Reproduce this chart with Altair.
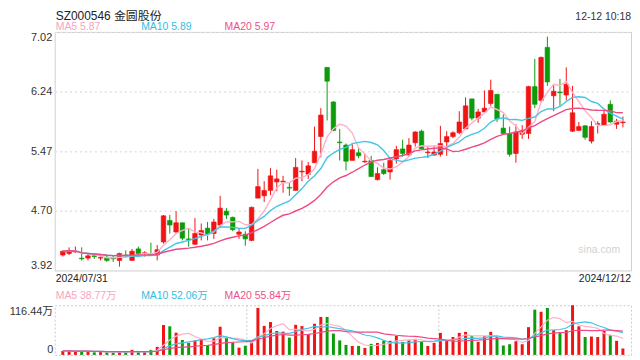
import altair as alt
import pandas as pd

title_text = "SZ000546 金圆股份"
time_text = "12-12 10:18"
start_date = "2024/07/31"
end_date = "2024/12/12"
watermark = "sina.com"
price_ticks = [3.92, 4.70, 5.47, 6.24, 7.02]
volume_ticks = [0, 116.44]
price_ma_labels = ["MA5 5.87", "MA10 5.89", "MA20 5.97"]
volume_ma_labels = ["MA5 38.77万", "MA10 52.06万", "MA20 55.84万"]
ma_windows = [5, 10, 20]

opens = [4.12, 4.14, 4.16, 4.08, 4.08, 4.11, 4.08, 4.09, 4.08, 4.05,
         4.12, 4.05, 4.20, 4.14, 4.13, 4.12, 4.29, 4.57, 4.42, 4.54,
         4.33, 4.26, 4.38, 4.47, 4.40, 4.51, 4.69, 4.61, 4.39, 4.39,
         4.31, 4.86, 4.89, 4.96, 5.07, 5.07, 5.00, 4.96, 5.20, 5.17,
         5.32, 5.66, 6.56, 6.11, 5.59, 5.55, 5.35, 5.45, 5.33, 5.35,
         5.10, 5.23, 5.20, 5.37, 5.50, 5.42, 5.58, 5.73, 5.45, 5.42,
         5.43, 5.59, 5.66, 5.71, 5.76, 6.15, 5.90, 5.98, 6.09, 6.21,
         5.77, 5.70, 5.44, 5.69, 5.70, 6.31, 6.13, 6.82, 6.19, 6.24,
         6.20, 5.73, 5.74, 5.80, 5.60, 5.82, 5.81, 6.08, 5.82, 5.84]

highs = [4.18, 4.22, 4.23, 4.22, 4.13, 4.13, 4.12, 4.12, 4.12, 4.15,
         4.18, 4.20, 4.23, 4.17, 4.28, 4.25, 4.64, 4.64, 4.69, 4.54,
         4.46, 4.60, 4.53, 4.55, 4.59, 4.89, 4.73, 4.62, 4.47, 4.43,
         4.75, 5.24, 5.08, 5.25, 5.23, 5.15, 5.06, 5.38, 5.35, 5.33,
         5.79, 6.03, 6.56, 6.12, 5.76, 5.57, 5.56, 5.51, 5.44, 5.41,
         5.26, 5.32, 5.38, 5.54, 5.62, 5.64, 5.73, 5.75, 5.53, 5.54,
         5.80, 5.73, 5.73, 5.99, 6.17, 6.15, 6.02, 6.26, 6.40, 6.21,
         5.95, 5.79, 5.82, 5.81, 6.32, 6.67, 6.70, 6.96, 6.34, 6.41,
         6.56, 6.32, 5.85, 5.81, 5.86, 5.86, 6.01, 6.13, 5.89, 5.92]

lows = [4.10, 4.12, 4.15, 4.05, 4.05, 4.07, 4.05, 4.03, 4.03, 3.97,
        4.10, 4.05, 4.12, 4.10, 4.12, 4.05, 4.27, 4.40, 4.40, 4.31,
        4.23, 4.25, 4.31, 4.31, 4.33, 4.48, 4.59, 4.43, 4.33, 4.24,
        4.30, 4.86, 4.81, 4.90, 4.95, 4.93, 4.89, 4.96, 5.08, 5.11,
        5.32, 5.39, 5.87, 5.73, 5.35, 5.22, 5.35, 5.38, 5.32, 5.14,
        5.09, 5.16, 5.10, 5.31, 5.40, 5.41, 5.53, 5.50, 5.38, 5.41,
        5.40, 5.41, 5.64, 5.69, 5.76, 5.87, 5.84, 5.98, 6.06, 5.85,
        5.70, 5.40, 5.32, 5.63, 5.63, 6.03, 6.11, 6.32, 5.99, 6.06,
        6.13, 5.72, 5.73, 5.62, 5.57, 5.70, 5.80, 5.84, 5.76, 5.78]

closes = [4.17, 4.18, 4.17, 4.07, 4.11, 4.10, 4.09, 4.05, 4.07, 4.14,
          4.11, 4.17, 4.14, 4.15, 4.12, 4.19, 4.63, 4.51, 4.54, 4.34,
          4.32, 4.40, 4.44, 4.39, 4.55, 4.73, 4.64, 4.45, 4.42, 4.33,
          4.74, 5.01, 4.96, 5.15, 5.11, 5.08, 4.99, 5.26, 5.21, 5.28,
          5.47, 5.94, 6.38, 5.74, 5.58, 5.34, 5.49, 5.41, 5.34, 5.14,
          5.18, 5.18, 5.35, 5.49, 5.44, 5.55, 5.72, 5.50, 5.46, 5.46,
          5.57, 5.66, 5.71, 5.85, 6.06, 5.90, 5.98, 6.03, 6.26, 5.89,
          5.70, 5.43, 5.72, 5.74, 6.31, 6.08, 6.69, 6.37, 6.25, 6.23,
          6.34, 5.97, 5.79, 5.65, 5.79, 5.83, 5.95, 5.85, 5.86, 5.85]

volumes = [9.4, 9, 8, 9, 8, 6, 7, 6, 5.5, 8.6,
           5.5, 11.7, 6, 6, 11.7, 18.8, 70, 67, 52, 35,
           28, 34, 37, 23, 39, 66, 40, 29, 17, 21.5,
           32, 110, 68, 77, 56, 54.5, 40.5, 70.5, 67.5, 49,
           73, 89, 89, 50, 34, 23.4, 21, 21, 16.4, 25.8,
           28, 33.6, 33, 44.5, 30.5, 34, 37.5, 31, 21, 28,
           51.6, 34.4, 42, 51.6, 54, 43.8, 30.5, 43.8, 54, 42,
           22, 25, 32, 25, 65, 106, 101, 110, 58, 51,
           58, 116.44, 67, 42, 43, 42, 56, 47, 33, 15]

df = pd.DataFrame({
    "i": list(range(len(closes))),
    "open": opens, "high": highs, "low": lows, "close": closes, "vol": volumes,
})

W, H1, H2 = 580, 240, 50
FONT = "Liberation Sans, Arial, Noto Sans CJK SC, sans-serif"
RED, GREEN = "#f01414", "#0b9b0b"
MA_LINE = ["#ffb0cb", "#44c5e4", "#ee4b86"]
MA_TEXT = ["#f9a3c3", "#33bde0", "#ec4f88"]
LEG_X = [1, 87, 171]

xenc = alt.X("i:Q", scale=alt.Scale(domain=[-0.5, len(closes) - 0.5], nice=False, zero=False), axis=None)
candle_color = alt.condition("datum.close >= datum.open", alt.value(RED), alt.value(GREEN))


def label(text, x, y, color, size, align="left"):
    return alt.Chart(pd.DataFrame({"t": [text]})).mark_text(
        align=align, baseline="alphabetic", color=color, fontSize=size, font=FONT
    ).encode(x=alt.value(x), y=alt.value(y), text="t:N")


def with_ma(chart, field, prefix):
    for n in ma_windows:
        chart = chart.transform_window(
            **{f"{prefix}{n}": f"mean({field})"}, frame=[-(n - 1), 0], sort=[alt.SortField("i")]
        )
    return chart


base = alt.Chart(df)

# ---------------- price panel ----------------
yP = alt.Scale(domain=[price_ticks[0], price_ticks[-1]], nice=False, zero=False)
price_axis = alt.Axis(values=price_ticks, format=".2f", labelFlush=True, grid=True,
                      gridDash=[2, 3], gridColor="#e2e2e2", gridWidth=1.5, domain=False,
                      ticks=False, labelPadding=3, labelFontSize=11, labelColor="#333333",
                      labelFont=FONT, title=None)

wicks = base.mark_rule(strokeWidth=1).encode(
    x=xenc, y=alt.Y("low:Q", scale=yP, axis=price_axis), y2="high:Q", color=candle_color)
bodies = base.mark_bar(size=4.6, strokeWidth=0.6).encode(
    x=xenc, y=alt.Y("open:Q", scale=yP, axis=price_axis), y2="close:Q",
    color=candle_color, stroke=candle_color)

ma_price = with_ma(base, "close", "ma")
price_lines = [
    ma_price.mark_line(color=c, strokeWidth=1.4).encode(
        x=xenc, y=alt.Y(f"ma{n}:Q", scale=yP, axis=price_axis))
    for n, c in zip(ma_windows, MA_LINE)
]

anchor = alt.Chart(pd.DataFrame({"a": [0]})).mark_rule(strokeWidth=0, opacity=0).encode(
    x=alt.value(-46), x2=alt.value(-46), y=alt.value(-21), y2=alt.value(-21))

price_texts = [
    label(title_text, 1, -12, "#222222", 12),
    label(time_text, W, -12, "#333333", 10.5, align="right"),
    label(start_date, 1, 252, "#222222", 10.5),
    label(end_date, W, 252, "#222222", 10.5, align="right"),
    label(watermark, 569, 222, "#d2d2d2", 10.5, align="right"),
] + [label(t, x, -1.5, c, 10.5) for t, x, c in zip(price_ma_labels, LEG_X, MA_TEXT)]

price_chart = alt.layer(wicks, bodies, *price_lines, *price_texts, anchor).properties(
    width=W, height=H1, view=alt.ViewBackground(stroke="#d0d0d0", strokeWidth=1))

# ---------------- volume panel ----------------
yV = alt.Scale(domain=[volume_ticks[0], volume_ticks[-1]], nice=False, zero=True)
vol_axis = alt.Axis(values=volume_ticks, labelFlush=True, grid=False, domain=False, ticks=False,
                    labelPadding=2, labelFontSize=11, labelColor="#333333", labelFont=FONT,
                    title=None,
                    labelExpr="datum.value == 0 ? '0' : format(datum.value, '.2f') + '万'")

vol_bars = base.mark_bar(size=3, orient="vertical").encode(
    x=xenc, y=alt.Y("vol:Q", scale=yV, axis=vol_axis), color=candle_color)

ma_vol = with_ma(base, "vol", "vma")
vol_lines = [
    ma_vol.mark_line(color=c, strokeWidth=1.2).encode(
        x=xenc, y=alt.Y(f"vma{n}:Q", scale=yV, axis=vol_axis))
    for n, c in zip(ma_windows, MA_LINE)
]

thirds = [
    alt.Chart(pd.DataFrame({"a": [0]})).mark_rule(color="#cccccc", strokeDash=[2, 2], strokeWidth=1).encode(
        x=alt.value(px), y=alt.value(0), y2=alt.value(H2))
    for px in (W / 3, 2 * W / 3)
]

vol_texts = [label(t, x, -6.5, c, 10.5) for t, x, c in zip(volume_ma_labels, LEG_X, MA_TEXT)]

volume_chart = alt.layer(*thirds, vol_bars, *vol_lines, *vol_texts).properties(
    width=W, height=H2,
    view=alt.ViewBackground(stroke="#cccccc", strokeDash=[2, 2], strokeWidth=1))

chart = alt.vconcat(price_chart, volume_chart, spacing=35, bounds="flush").properties(
    padding=0
).configure(font=FONT).configure_view(stroke="#d0d0d0")

chart.save("out.html", embed_options={"renderer": "svg", "actions": False})
